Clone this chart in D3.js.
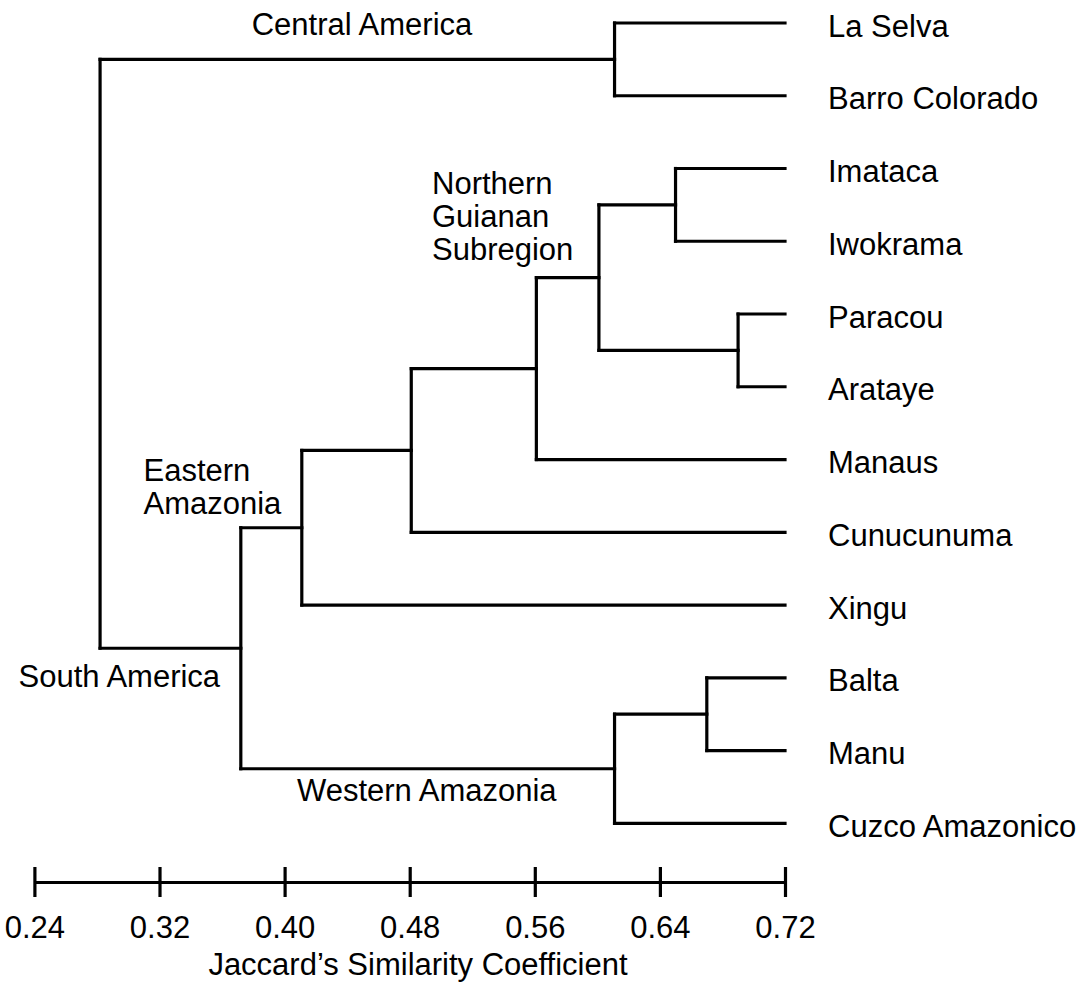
<!DOCTYPE html>
<html>
<head>
<meta charset="utf-8">
<script src="https://cdn.jsdelivr.net/npm/d3@7/dist/d3.min.js"></script>
<style>
  html, body { margin: 0; padding: 0; background: #fff; }
  svg { display: block; }
  text { font-family: "Liberation Sans", Arial, Helvetica, sans-serif; fill: #000; }
</style>
</head>
<body>
<svg id="chart" width="1082" height="984"></svg>
<script>
// ---- Data ----
const leaves = ["La Selva", "Barro Colorado", "Imataca", "Iwokrama", "Paracou", "Arataye",
                "Manaus", "Cunucunuma", "Xingu", "Balta", "Manu", "Cuzco Amazonico"];
// cluster id, left child, right child, Jaccard similarity at which they join
const mergeIds   = ["CA", "IM", "PA", "NG", "NG2", "EA3", "EA", "BM", "WA", "SA", "ROOT"];
const mergeLeft  = ["La Selva", "Imataca", "Paracou", "IM", "NG", "NG2", "EA3", "Balta", "BM", "EA", "CA"];
const mergeRight = ["Barro Colorado", "Iwokrama", "Arataye", "PA", "Manaus", "Cunucunuma", "Xingu", "Manu", "Cuzco Amazonico", "WA", "SA"];
const mergeSim   = [0.611, 0.650, 0.690, 0.601, 0.561, 0.481, 0.411, 0.670, 0.611, 0.372, 0.282];
const leafSim = 0.72;
const tickValues = [0.24, 0.32, 0.40, 0.48, 0.56, 0.64, 0.72];
const tickLabels = ["0.24", "0.32", "0.40", "0.48", "0.56", "0.64", "0.72"];
const axisTitle = "Jaccard\u2019s Similarity Coefficient";
const regionCentral = ["Central America"];
const regionNorthern = ["Northern", "Guianan", "Subregion"];
const regionEastern = ["Eastern", "Amazonia"];
const regionSouth = ["South America"];
const regionWestern = ["Western Amazonia"];

// ---- Build tree ----
const nodes = {};
leaves.forEach(name => { nodes[name] = { name, sim: leafSim, children: null }; });
mergeIds.forEach((id, i) => {
  nodes[id] = { name: id, sim: mergeSim[i], children: [nodes[mergeLeft[i]], nodes[mergeRight[i]]] };
});
const root = d3.hierarchy(nodes["ROOT"], d => d.children);

// ---- Scales ----
const x = d3.scaleLinear().domain([0.24, 0.72]).range([34.4, 785]);
const y = d3.scalePoint().domain(leaves).range([23, 823.3]);

root.eachAfter(n => {
  n.px = x(n.data.sim);
  if (!n.children) n.py = y(n.data.name);
  else n.py = d3.mean(n.children, c => c.py);
});

const svg = d3.select("#chart");
const FS = 31;

// ---- Links ----
const g = svg.append("g")
  .attr("fill", "none").attr("stroke", "#000").attr("stroke-width", 3.2)
  .attr("stroke-linecap", "square");

// vertical connector of each cluster
g.selectAll("path.vert")
  .data(root.descendants().filter(n => n.children))
  .join("path")
  .attr("class", "vert")
  .attr("d", n => `M${n.px},${d3.min(n.children, c => c.py)}V${d3.max(n.children, c => c.py)}`);

// horizontal branch to each child
g.selectAll("path.horiz")
  .data(root.links())
  .join("path")
  .attr("class", "horiz")
  .attr("d", l => `M${l.source.px},${l.target.py}H${l.target.px}`);

// ---- Leaf labels ----
svg.append("g").selectAll("text")
  .data(root.leaves())
  .join("text")
  .attr("x", 828)
  .attr("y", d => d.py + 13.5)
  .attr("font-size", FS)
  .text(d => d.data.name);

// ---- Region labels ----
function multi(lines, x0, y0, lh = 0, anchor = "start") {
  const t = svg.append("text").attr("font-size", FS).attr("text-anchor", anchor);
  lines.forEach((s, i) => t.append("tspan").attr("x", x0).attr("y", y0 + i * lh).text(s));
}
multi(regionCentral, 362, 35, 0, "middle");
multi(regionNorthern, 432, 193.5, 33.3);
multi(regionEastern, 143.5, 481, 33.3);
multi(regionSouth, 18.5, 687);
multi(regionWestern, 297, 801);

// ---- Axis ----
const axis = d3.axisBottom(x).tickValues(tickValues)
  .tickFormat((d, i) => tickLabels[i]).tickSize(15).tickSizeOuter(0);
const ag = svg.append("g").attr("transform", "translate(0,882)").call(axis);
ag.select(".domain").attr("stroke", "#000").attr("stroke-width", 3.2);
ag.selectAll(".tick line").attr("stroke", "#000").attr("stroke-width", 3.2).attr("y1", -15).attr("y2", 15);
ag.selectAll(".tick text")
  .attr("font-size", FS)
  .attr("font-family", "'Liberation Sans', Arial, sans-serif")
  .attr("fill", "#000")
  .attr("dy", null)
  .attr("y", 56);

svg.append("text")
  .attr("x", 418).attr("y", 975)
  .attr("text-anchor", "middle")
  .attr("font-size", FS)
  .text(axisTitle);
</script>
</body>
</html>
